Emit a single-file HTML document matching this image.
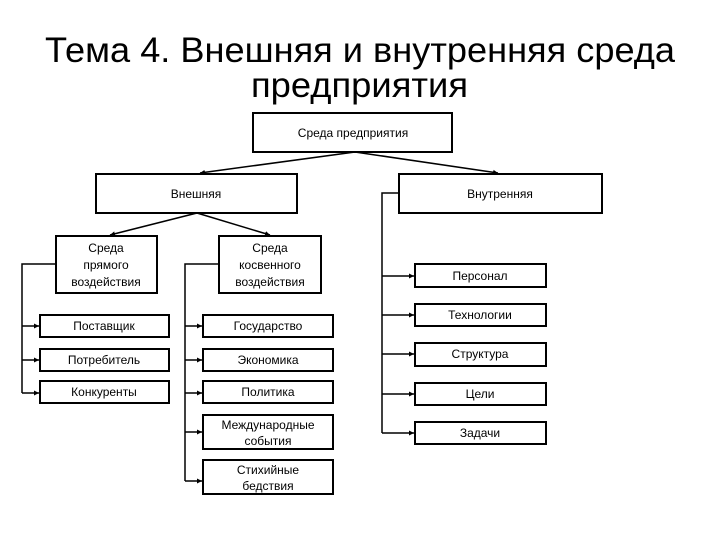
<!DOCTYPE html>
<html><head><meta charset="utf-8"><style>
html,body{margin:0;padding:0;background:#fff;width:720px;height:540px;overflow:hidden}
text{font-family:"Liberation Sans","DejaVu Sans",sans-serif;fill:#000}
</style></head><body>
<svg width="720" height="540" viewBox="0 0 720 540" xmlns="http://www.w3.org/2000/svg">
<defs><marker id="a" markerWidth="6" markerHeight="6" refX="5" refY="3" orient="auto" markerUnits="userSpaceOnUse"><path d="M0,0.5 L5,3 L0,5.5z" fill="#000"/></marker></defs>
<text x="45" y="62" font-size="35" textLength="630" lengthAdjust="spacingAndGlyphs">Тема 4. Внешняя и внутренняя среда</text>
<text x="251" y="97" font-size="35" textLength="217" lengthAdjust="spacingAndGlyphs">предприятия</text>
<g fill="none" stroke="#000" stroke-width="2">
<rect x="253" y="113" width="199" height="39"/>
<rect x="96" y="174" width="201" height="39"/>
<rect x="399" y="174" width="203" height="39"/>
<rect x="56" y="236" width="101" height="57"/>
<rect x="219" y="236" width="102" height="57"/>
<rect x="40" y="315" width="129" height="22"/>
<rect x="40" y="349" width="129" height="22"/>
<rect x="40" y="381" width="129" height="22"/>
<rect x="203" y="315" width="130" height="22"/>
<rect x="203" y="349" width="130" height="22"/>
<rect x="203" y="381" width="130" height="22"/>
<rect x="203" y="415" width="130" height="34"/>
<rect x="203" y="460" width="130" height="34"/>
<rect x="415" y="264" width="131" height="23"/>
<rect x="415" y="304" width="131" height="22"/>
<rect x="415" y="343" width="131" height="23"/>
<rect x="415" y="383" width="131" height="22"/>
<rect x="415" y="422" width="131" height="22"/>
</g>
<g stroke="#000" stroke-width="1.5" fill="none">
<line x1="355" y1="152" x2="200" y2="173" marker-end="url(#a)"/>
<line x1="355" y1="152" x2="498" y2="173" marker-end="url(#a)"/>
<line x1="197" y1="213" x2="110" y2="235" marker-end="url(#a)"/>
<line x1="197" y1="213" x2="270" y2="235" marker-end="url(#a)"/>
<polyline points="56,264 22,264 22,393"/>
<polyline points="219,264 185,264 185,481"/>
<polyline points="399,193 382,193 382,433"/>
<line x1="22" y1="326" x2="39" y2="326" marker-end="url(#a)"/>
<line x1="22" y1="360" x2="39" y2="360" marker-end="url(#a)"/>
<line x1="22" y1="393" x2="39" y2="393" marker-end="url(#a)"/>
<line x1="185" y1="326" x2="202" y2="326" marker-end="url(#a)"/>
<line x1="185" y1="360" x2="202" y2="360" marker-end="url(#a)"/>
<line x1="185" y1="393" x2="202" y2="393" marker-end="url(#a)"/>
<line x1="185" y1="432" x2="202" y2="432" marker-end="url(#a)"/>
<line x1="185" y1="481" x2="202" y2="481" marker-end="url(#a)"/>
<line x1="382" y1="276" x2="414" y2="276" marker-end="url(#a)"/>
<line x1="382" y1="315" x2="414" y2="315" marker-end="url(#a)"/>
<line x1="382" y1="354" x2="414" y2="354" marker-end="url(#a)"/>
<line x1="382" y1="394" x2="414" y2="394" marker-end="url(#a)"/>
<line x1="382" y1="433" x2="414" y2="433" marker-end="url(#a)"/>
</g>
<g font-size="12" text-anchor="middle">
<text x="353" y="137">Среда предприятия</text>
<text x="196" y="198">Внешняя</text>
<text x="500" y="198">Внутренняя</text>
<text x="106" y="252">Среда</text><text x="106" y="269">прямого</text><text x="106" y="286">воздействия</text>
<text x="270" y="252">Среда</text><text x="270" y="269">косвенного</text><text x="270" y="286">воздействия</text>
<text x="104" y="330">Поставщик</text>
<text x="104" y="364">Потребитель</text>
<text x="104" y="396">Конкуренты</text>
<text x="268" y="330">Государство</text>
<text x="268" y="364">Экономика</text>
<text x="268" y="396">Политика</text>
<text x="268" y="429">Международные</text><text x="268" y="445">события</text>
<text x="268" y="474">Стихийные</text><text x="268" y="490">бедствия</text>
<text x="480" y="280">Персонал</text>
<text x="480" y="319">Технологии</text>
<text x="480" y="358">Структура</text>
<text x="480" y="398">Цели</text>
<text x="480" y="437">Задачи</text>
</g>
</svg>
</body></html>
